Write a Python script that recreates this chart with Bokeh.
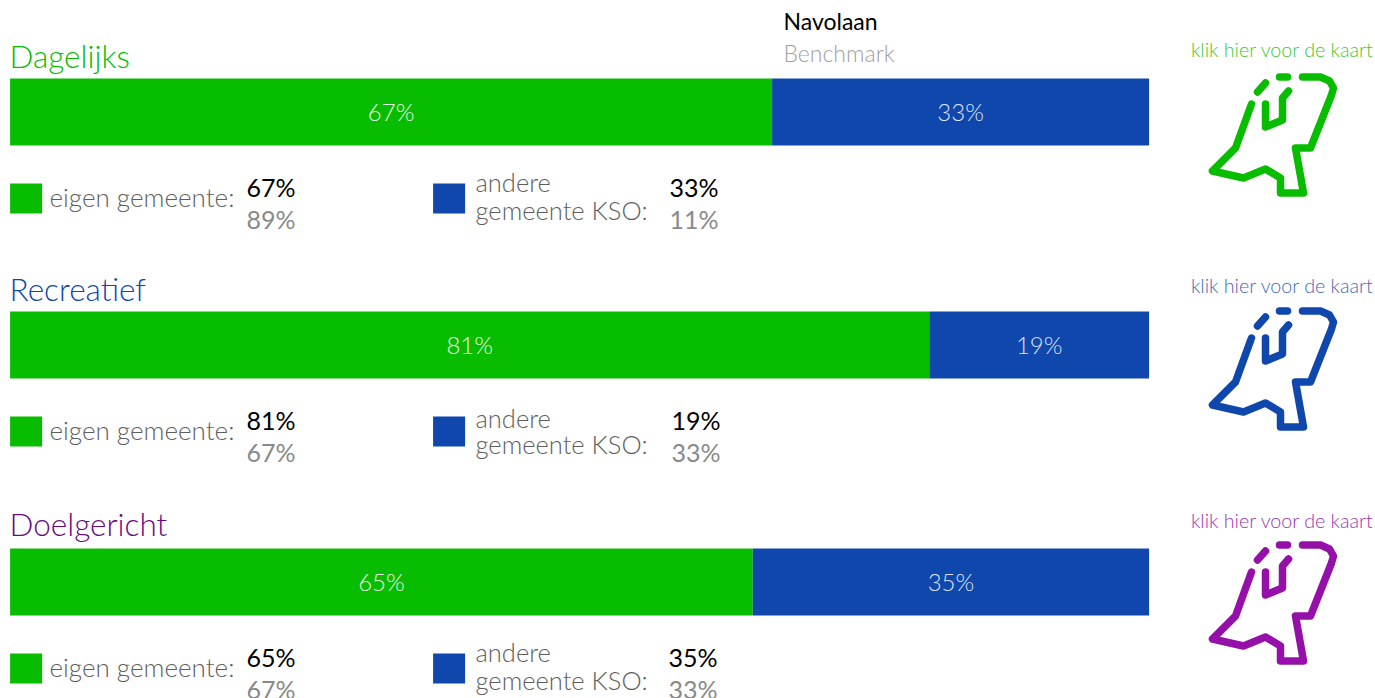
from bokeh.plotting import figure
from bokeh.models import Range1d
from bokeh.core.properties import value
from bokeh.embed import file_html
from bokeh.resources import INLINE

categories = ["Dagelijks", "Recreatief", "Doelgericht"]
eigen = [66.9, 80.7, 65.2]
andere = [33.1, 19.3, 34.8]
eigen_lbl = ["67%", "81%", "65%"]
andere_lbl = ["33%", "19%", "35%"]
eigen_bench = ["89%", "67%", "67%"]
andere_bench = ["11%", "33%", "33%"]

GREEN, BLUE = "#08BC00", "#0F47AD"
title_col = ["#08BC00", "#0F47AD", "#6B0A80"]
icon_col = ["#08BC00", "#0F47AD", "#9410A8"]
link_col = ["#3AC935", "#3F68BC", "#9A35B2"]
LIGHT = value("Lato Light")
REG = value("Lato")

W, H = 1375, 698
bar_l, bar_r = 9.6, 1148.6
u = (bar_r - bar_l) / 100
p = figure(width=W, height=H, output_backend="svg", toolbar_location=None,
           x_range=Range1d(-bar_l / u, (W - bar_l) / u),
           y_range=Range1d(H, 0), min_border=0,
           x_axis_location=None, y_axis_location=None)
p.extra_x_ranges["px"] = Range1d(0, W)
p.grid.visible = False
p.outline_line_color = None


def txt(x, y, s, size, color, align="left", font=LIGHT):
    p.text([x], [y - 2], text=[s], x_range_name="px", text_font=font, text_font_size=f"{size}px",
           text_color=color, text_align=align, text_baseline="middle")


bar_top = [78, 311, 548]
leg_top = [183, 416, 653]
title_y = [57, 290, 525]
link_y = [51, 287, 522]
v1_x = [246, 246, 246]
v2_x = [669, 671, 668]
and1_y = [0, 3, 0]
and2_y = [28, 29, 28]
icon_dy = [-0.5, 233.5, 467.5]

outline = [(1251, 104), (1235, 148), (1212, 171), (1243, 178), (1265, 169), (1280, 178), (1280, 193),
           (1303, 193), (1295, 148), (1310, 148), (1331, 95), (1333, 88), (1329, 81), (1320, 77), (1302, 77)]
inner = [(1265, 104), (1265, 127), (1282, 120), (1282, 98), (1288, 91)]
dash1 = [(1257, 92), (1265, 83)]
dash2 = [(1279, 77), (1287, 77)]

for i in range(3):
    t = bar_top[i]
    p.quad(left=[0], right=[eigen[i]], top=[t], bottom=[t + 67], fill_color=GREEN, line_color=None)
    p.quad(left=[eigen[i]], right=[eigen[i] + andere[i]], top=[t], bottom=[t + 67], fill_color=BLUE, line_color=None)
    p.text([eigen[i] / 2], [t + 33], text=[eigen_lbl[i]], text_font=LIGHT, text_font_size="24px",
           text_color="#E4F6E2", text_align="center", text_baseline="middle")
    p.text([eigen[i] + andere[i] / 2], [t + 33], text=[andere_lbl[i]], text_font=LIGHT, text_font_size="24px",
           text_color="#DCE4F4", text_align="center", text_baseline="middle")

    txt(9, title_y[i], categories[i], 31.5, title_col[i])
    txt(1282, link_y[i], "klik hier voor de kaart", 19.7, link_col[i], "center")

    lt = leg_top[i]
    p.quad(left=[9.6], right=[41.6], top=[lt], bottom=[lt + 30], fill_color=GREEN, line_color=None, x_range_name="px")
    p.quad(left=[432.6], right=[464.6], top=[lt], bottom=[lt + 30], fill_color=BLUE, line_color=None, x_range_name="px")
    txt(49, lt + 15, "eigen gemeente:", 26, "#5E5E5E")
    txt(475, lt + and1_y[i], "andere", 25.5, "#5E5E5E")
    txt(475, lt + and2_y[i], "gemeente KSO:", 25.5, "#5E5E5E")
    txt(v1_x[i], lt + 5, eigen_lbl[i], 25, "#000000", font=REG)
    txt(v1_x[i], lt + 37, eigen_bench[i], 25, "#8A8A8A", font=REG)
    txt(v2_x[i], lt + 5, andere_lbl[i], 25, "#000000", font=REG)
    txt(v2_x[i], lt + 37, andere_bench[i], 25, "#8A8A8A", font=REG)

    for path in (outline, inner, dash1, dash2):
        p.line([q[0] for q in path], [q[1] + icon_dy[i] for q in path], x_range_name="px",
               line_color=icon_col[i], line_width=7.5, line_cap="round", line_join="round")

txt(783, 22, "Navolaan", 23, "#000000", font=REG)
txt(783, 54, "Benchmark", 23, "#A0A0A0")

open("out.html", "w").write(file_html(p, INLINE))
